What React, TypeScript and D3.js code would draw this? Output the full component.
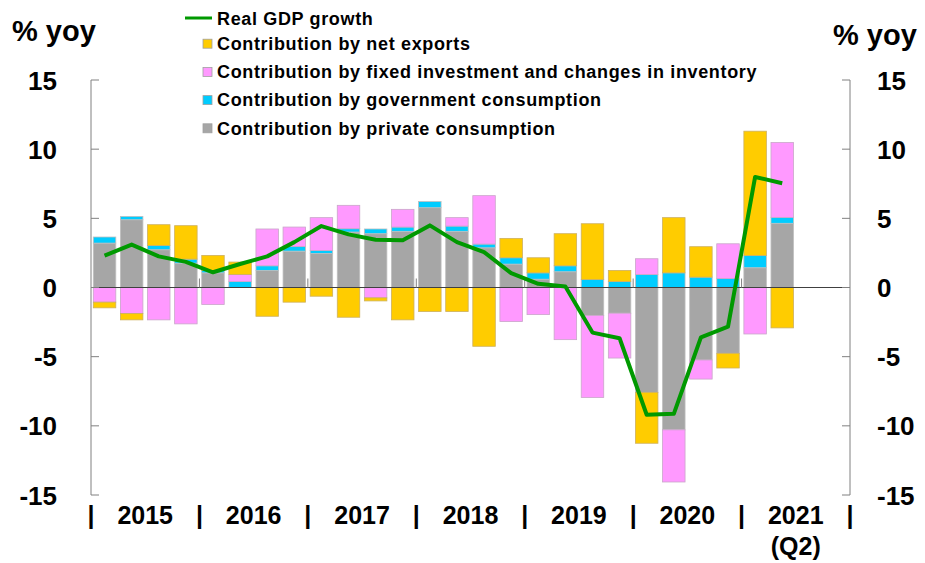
import React from "react";
import * as d3 from "d3";

const quarters = [
  "2015Q1","2015Q2","2015Q3","2015Q4",
  "2016Q1","2016Q2","2016Q3","2016Q4",
  "2017Q1","2017Q2","2017Q3","2017Q4",
  "2018Q1","2018Q2","2018Q3","2018Q4",
  "2019Q1","2019Q2","2019Q3","2019Q4",
  "2020Q1","2020Q2","2020Q3","2020Q4",
  "2021Q1","2021Q2","2021Q3","2021Q4",
];

const privateCons = [3.21,4.9,2.73,1.76,1.06,0,1.23,2.63,2.46,4.01,3.89,4.06,5.77,4.06,2.87,1.69,0.6,1.14,-2.03,-1.86,-7.58,-10.29,-5.24,-4.76,1.43,4.64];
const govCons = [0.44,0.24,0.31,0.29,0.17,0.43,0.34,0.34,0.22,0.24,0.34,0.31,0.44,0.38,0.27,0.46,0.46,0.43,0.58,0.43,0.94,1.06,0.75,0.65,0.89,0.43];
const investment = [-1.06,-1.88,-2.34,-2.63,-1.23,0.51,2.66,1.4,2.37,1.69,-0.75,1.28,0,0.61,3.5,-2.46,-1.96,-3.77,-5.92,-3.24,1.14,-3.77,-1.38,2.51,-3.36,5.41];
const netExports = [-0.41,-0.46,1.5,2.42,1.09,0.9,-2.08,-1.06,-0.63,-2.15,-0.22,-2.34,-1.74,-1.74,-4.25,1.4,1.09,2.32,4.03,0.8,-3.68,3.99,2.2,-1.06,8.98,-2.92];
const gdpGrowth = [2.3,3.1,2.25,1.85,1.1,1.7,2.25,3.28,4.44,3.84,3.45,3.41,4.49,3.28,2.56,1.04,0.27,0.07,-3.26,-3.67,-9.2,-9.13,-3.6,-2.83,7.99,7.54];

const yTicks = [15, 10, 5, 0, -5, -10, -15];
const yearLabels = ["2015", "2016", "2017", "2018", "2019", "2020", "2021"];

const seriesKeys = ["private", "gov", "inv", "net"];
const seriesColors: Record<string, string> = {
  private: "#A6A6A6",
  gov: "#00CCFF",
  inv: "#FF99FF",
  net: "#FFCC00",
};
const seriesStroke: Record<string, string> = {
  private: "#BFBFBF",
  gov: "#BFBFBF",
  inv: "#C9A6C9",
  net: "#CDB060",
};
const legendItems = [
  { key: "net", label: "Contribution by net exports" },
  { key: "inv", label: "Contribution by fixed investment and changes in inventory" },
  { key: "gov", label: "Contribution by government consumption" },
  { key: "private", label: "Contribution by private consumption" },
];

const W = 925;
const H = 563;
const left = 91;
const right = 850;
const top = 80;
const bottom = 495;
const FONT = "'Liberation Sans', Arial, Helvetica, sans-serif";

export default function App() {
  const x = d3.scaleBand<string>().domain(quarters).range([left, right]).paddingInner(0.17).paddingOuter(0.085);
  const y = d3.scaleLinear().domain([-15, 15]).range([bottom, top]);

  const rows = privateCons.map((_, i) => ({
    q: quarters[i],
    private: privateCons[i],
    gov: govCons[i],
    inv: investment[i],
    net: netExports[i],
  }));
  const stack = d3.stack<any>().keys(seriesKeys).offset(d3.stackOffsetDiverging);
  const stacked = stack(rows);

  const step = x.step();
  const center = (q: string) => (x(q) as number) + x.bandwidth() / 2;
  const line = d3
    .line<number>()
    .x((_, i) => center(quarters[i]))
    .y((d) => y(d));

  const yearWidth = step * 4;
  const sepXs = d3.range(yearLabels.length + 1).map((i) => left + i * yearWidth);

  return (
    <svg width={W} height={H} style={{ position: "absolute", left: 0, top: 0, background: "#fff" }} fontFamily={FONT}>
      {/* bars */}
      {stacked.map((s) => (
        <g key={s.key}>
          {s.map((d, i) =>
            d[1] - d[0] === 0 ? null : (
              <rect
                key={i}
                x={x(quarters[i])}
                width={x.bandwidth()}
                y={y(d[1])}
                height={y(d[0]) - y(d[1])}
                fill={seriesColors[s.key]}
                stroke={seriesStroke[s.key]}
                strokeWidth={0.8}
              />
            )
          )}
        </g>
      ))}

      {/* zero line */}
      <line x1={left} x2={right} y1={y(0)} y2={y(0)} stroke="#404040" strokeWidth={1} />
      {/* year ticks on zero line */}
      {sepXs.slice(1, -1).map((sx, i) => (
        <line key={i} x1={sx} x2={sx} y1={y(0)} y2={y(0) - 9} stroke="#808080" strokeWidth={1} />
      ))}

      {/* left axis */}
      <line x1={left} x2={left} y1={top} y2={bottom} stroke="#808080" strokeWidth={1} />
      {yTicks.map((t) => (
        <g key={"l" + t}>
          <line x1={left} x2={left + 8} y1={y(t)} y2={y(t)} stroke="#808080" strokeWidth={1} />
          <text x={57} y={y(t) + 9.5} textAnchor="end" fontSize={26} fontWeight="bold" fill="#000">
            {t}
          </text>
        </g>
      ))}
      {/* right axis */}
      <line x1={right} x2={right} y1={top} y2={bottom} stroke="#808080" strokeWidth={1} />
      {yTicks.map((t) => (
        <g key={"r" + t}>
          <line x1={right - 8} x2={right} y1={y(t)} y2={y(t)} stroke="#808080" strokeWidth={1} />
          <text x={877} y={y(t) + 9.5} textAnchor="start" fontSize={26} fontWeight="bold" fill="#000">
            {t}
          </text>
        </g>
      ))}

      {/* GDP line */}
      <path d={line(gdpGrowth) || ""} fill="none" stroke="#009900" strokeWidth={4} strokeLinejoin="round" />

      {/* axis titles */}
      <text x={12} y={41} fontSize={29} fontWeight="bold" fill="#000">% yoy</text>
      <text x={833} y={45} fontSize={29} fontWeight="bold" fill="#000">% yoy</text>

      {/* x labels */}
      {sepXs.map((sx, i) => (
        <text key={"s" + i} x={sx} y={524} textAnchor="middle" fontSize={25} fontWeight="bold" fill="#000">|</text>
      ))}
      {yearLabels.map((yl, i) => (
        <text key={yl} x={left + (i + 0.5) * yearWidth} y={524} textAnchor="middle" fontSize={25} fontWeight="bold" fill="#000">
          {yl}
        </text>
      ))}
      <text x={left + 6.5 * yearWidth} y={555} textAnchor="middle" fontSize={25} fontWeight="bold" fill="#000">(Q2)</text>

      {/* legend */}
      <line x1={185} x2={212} y1={18} y2={18} stroke="#009900" strokeWidth={3} />
      <text x={217} y={24.5} fontSize={18} letterSpacing={0.65} fontWeight="bold" fill="#000">Real GDP growth</text>
      {legendItems.map((it, i) => {
        const cy = 43.7 + i * 28.2;
        return (
          <g key={it.key}>
            <rect x={203} y={cy - 4.5} width={9} height={9} fill={seriesColors[it.key]} stroke="#A0A0A0" strokeWidth={0.8} />
            <text x={217} y={cy + 6.3} fontSize={18} letterSpacing={0.65} fontWeight="bold" fill="#000">{it.label}</text>
          </g>
        );
      })}
    </svg>
  );
}
